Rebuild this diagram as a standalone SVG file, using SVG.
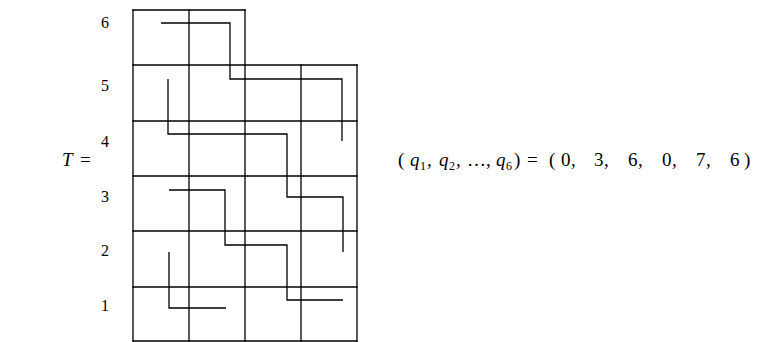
<svg xmlns="http://www.w3.org/2000/svg" width="766" height="342" viewBox="0 0 766 342">
<style>
.g{stroke:#000;stroke-width:1.3;fill:none;stroke-linecap:square}
.p{stroke:#000;stroke-width:1.3;fill:none}
.t{font-family:"Liberation Serif",serif;font-size:16px;fill:#000}
.f{font-family:"Liberation Serif",serif;font-size:19px;fill:#000}
.i{font-style:italic}
.s{font-size:12px}
</style>
<rect width="766" height="342" fill="#fff"/>
<g id="grid" class="g">
<path d="M133 10H245M133 65H357M133 121H357M133 176H357M133 231H357M133 287H357M133 341H357"/>
<path d="M133 10V341M189 10V341M245 10V341M301 65V341M357 65V341"/>
</g>
<g id="connectors" class="p">
<path d="M161 23H230V79H342V141"/>
<path d="M168 79V134H287V197H343V252"/>
<path d="M169 190H225V245H287V300H343"/>
<path d="M169 252V308H226"/>
</g>
<g id="labels" class="t" text-anchor="middle">
<text x="105" y="28">6</text>
<text x="105" y="91">5</text>
<text x="105" y="147">4</text>
<text x="105" y="202">3</text>
<text x="105" y="256">2</text>
<text x="105" y="311">1</text>
</g>
<g id="lhs" class="f">
<text x="62" y="166"><tspan class="i">T</tspan><tspan x="80">=</tspan></text>
</g>
<g id="formula" class="f">
<text x="398" y="166">(<tspan x="410" class="i">q</tspan><tspan x="420" y="170" class="s">1</tspan><tspan x="427" y="166">,</tspan><tspan x="439" class="i">q</tspan><tspan x="449" y="170" class="s">2</tspan><tspan x="456" y="166">,</tspan><tspan x="467">…</tspan><tspan x="486">,</tspan><tspan x="496" class="i">q</tspan><tspan x="506" y="170" class="s">6</tspan><tspan x="514" y="166">)</tspan><tspan x="527">=</tspan><tspan x="549">(</tspan><tspan x="561">0</tspan><tspan x="571">,</tspan><tspan x="594">3</tspan><tspan x="604">,</tspan><tspan x="628">6</tspan><tspan x="638">,</tspan><tspan x="662">0</tspan><tspan x="672">,</tspan><tspan x="696">7</tspan><tspan x="706">,</tspan><tspan x="730">6</tspan><tspan x="744">)</tspan></text>
</g>
</svg>
